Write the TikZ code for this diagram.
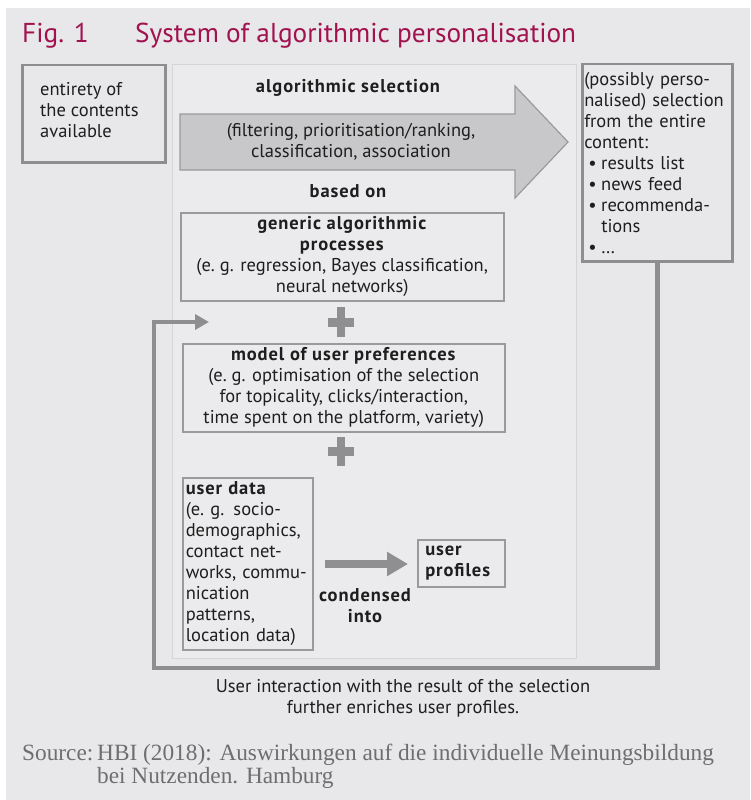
\documentclass[tikz,border=0pt]{standalone}
\usepackage{fontspec}
\setmainfont{PT Sans}[BoldFeatures={LetterSpace=5}]
\newfontfamily\srcfont{Liberation Serif}
\usetikzlibrary{arrows.meta}
\definecolor{bgc}{HTML}{E8E8EA}
\definecolor{panelc}{HTML}{EBEBED}
\definecolor{panelline}{HTML}{D5D5D7}
\definecolor{boxline}{HTML}{9A9A9C}
\definecolor{darkline}{HTML}{8E8E90}
\definecolor{arrowfill}{HTML}{C8C8CA}
\definecolor{solidgray}{HTML}{8F8F91}
\definecolor{titlec}{HTML}{A1124F}
\definecolor{txt}{HTML}{1E1E1E}
\definecolor{srcc}{HTML}{6E6E70}
\newcommand\bulitem{\hspace*{4pt}\makebox[13pt][l]{\textbullet}}
\tikzset{
  body/.style={font=\fontsize{18.5}{21}\selectfont, text=txt, inner sep=0pt},
  bodyb/.style={font=\fontsize{18.5}{21}\selectfont\bfseries, text=txt, inner sep=0pt},
  thinbox/.style={draw=boxline, line width=1.5pt, body},
  thickbox/.style={draw=darkline, line width=2.5pt, body},
  fb/.style={draw=darkline, line width=4.5pt, -{Triangle[length=14pt,width=15pt]}},
  condarrow/.style={draw=solidgray, line width=8pt, -{Triangle[length=21pt,width=23pt]}},
  srcstyle/.style={font=\srcfont\fontsize{23.3}{26}\selectfont, text=srcc, inner sep=0pt, anchor=base west},
  titlestyle/.style={anchor=base west, text=titlec, font=\fontsize{27.3}{30}\selectfont, inner sep=0pt},
}
\begin{document}
\begin{tikzpicture}[x=1pt,y=-1pt]
\fill[white] (0,0) rectangle (750,800);
\fill[bgc] (6,8) rectangle (750,800);
\useasboundingbox (0,0) rectangle (750,800);

% title
\node[titlestyle] (fig) at (22,43) {Fig. 1};
\node[titlestyle] (title) at (135,43) {System of algorithmic personalisation};

% central panel
\node[draw=panelline, fill=panelc, line width=1pt, minimum width=404pt, minimum height=594pt, anchor=north west, inner sep=0pt] (panel) at (172,64) {};

% left box
\node[thickbox, minimum width=143pt, minimum height=97pt, anchor=north west] (ent) at (21,64) {};
\node[body, align=left, anchor=north west] (entt) at ([xshift=19pt,yshift=-18pt]ent.north west) {entirety of\\the contents\\available};

% right box
\node[thickbox, minimum width=150pt, minimum height=197pt, text width=146pt, align=left, anchor=north west] (sel) at (581,63) {(possibly perso-\\nalised) selection\\from the entire\\content:\\\bulitem results list\\\bulitem news feed\\\bulitem recommenda-\\\hspace*{17pt}tions\\\bulitem \dots};

% big arrow
\draw[draw=boxline, fill=arrowfill, line width=1.2pt] (180,114) -- (515,114) -- (515,86) -- (568,142) -- (515,198) -- (515,170) -- (180,170) -- cycle;
\node[bodyb] (algsel) at (348,88) {algorithmic selection};
\node[body, align=center] (filt) at (351,142) {(filtering, prioritisation/ranking,\\classification, association};
\node[bodyb] (based) at (348,191) {based on};

% generic box
\node[thinbox, minimum width=323pt, minimum height=88pt, align=center, anchor=north west] (gen) at (180,212) {\textbf{generic algorithmic}\\\textbf{processes}\\(e.~g. regression, Bayes classification,\\neural networks)};

% plus 1
\fill[solidgray] (337,307) rectangle (345,337);
\fill[solidgray] (328,318) rectangle (354,327);

% model box
\node[thinbox, minimum width=322pt, minimum height=88pt, align=center, anchor=north west] (model) at (182,343) {\textbf{model of user preferences}\\(e.~g. optimisation of the selection\\for topicality, clicks/interaction,\\time spent on the platform, variety)};

% plus 2
\fill[solidgray] (337,437) rectangle (345,466);
\fill[solidgray] (328,447) rectangle (354,456);

% user data
\node[thinbox, minimum width=130pt, minimum height=172pt, text width=124pt, align=left, anchor=north west] (udata) at (182,477) {\textbf{user data}\\(e.~g. socio-\\demographics,\\contact net-\\works, commu-\\nication\\patterns,\\location data)};

% user profiles
\node[thinbox, minimum width=87pt, minimum height=47pt, text width=72pt, align=left, anchor=north west] (uprof) at (417,539) {\textbf{user}\\\textbf{profiles}};

\draw[condarrow] ([xshift=11pt]udata.east |- 0,564) -- ([xshift=-9pt]uprof.west |- 0,564);
\node[bodyb, align=center] (cond) at (365,606) {condensed\\into};

% feedback loop
\coordinate (fbend) at (209,322);
\draw[fb] (sel.south) |- (154,668) |- (fbend);

% bottom caption
\node[body, align=center] (inter) at (403,698) {User interaction with the result of the selection\\further enriches user profiles.};

% source
\node[srcstyle] (srclab) at (22,760) {Source:};
\node[srcstyle] (src1) at (97,760) {HBI (2018): Auswirkungen auf die individuelle Meinungsbildung};
\node[srcstyle] (src2) at (97,783) {bei Nutzenden. Hamburg};
\end{tikzpicture}
\end{document}
